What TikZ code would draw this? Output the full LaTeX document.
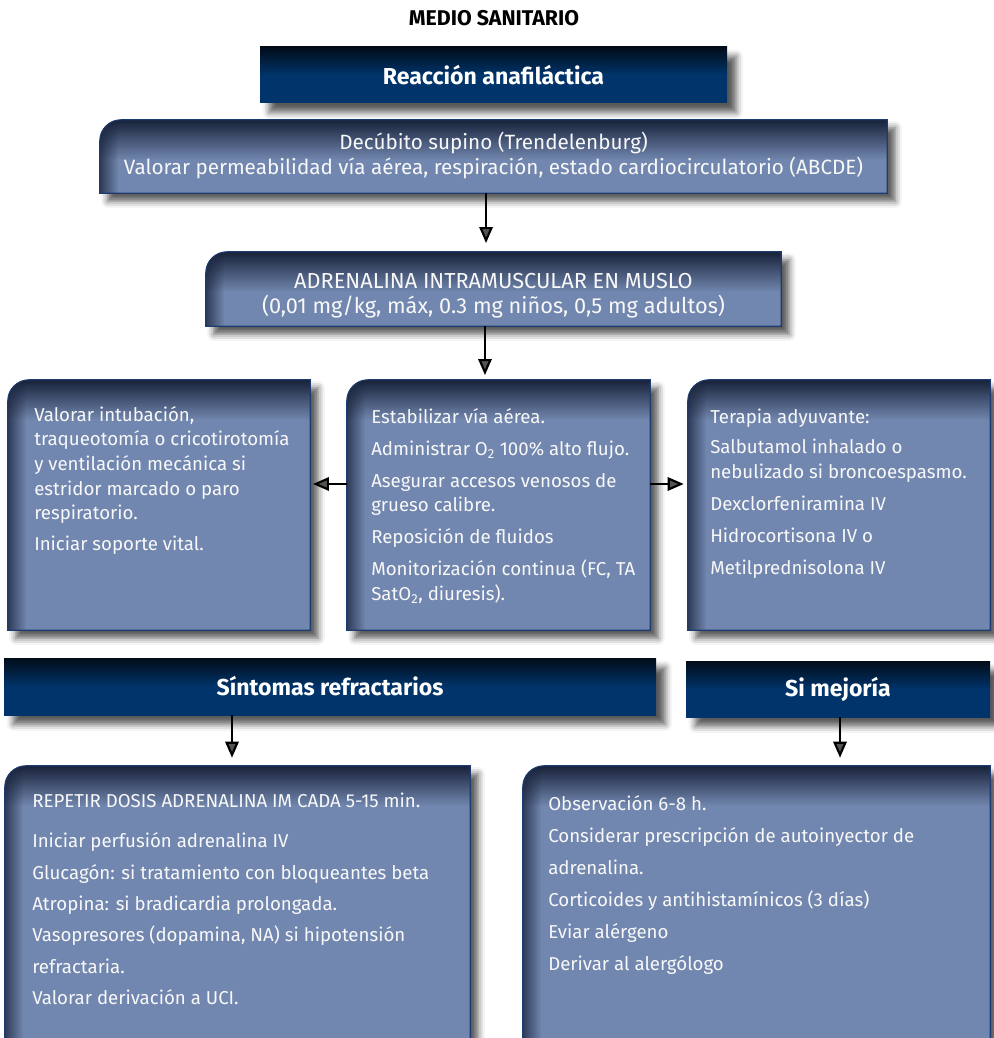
\documentclass[tikz,border=0pt]{standalone}
\usepackage{fontspec}
\setmainfont{Fira Sans}
\usepackage{tikz}
\usetikzlibrary{arrows.meta, fit, fadings, shadows.blur}
\definecolor{panelblue}{HTML}{7287AF}
\definecolor{paneldark}{HTML}{18223A}
\definecolor{paneledge}{HTML}{1D3B6E}
\definecolor{hdrblue}{HTML}{00346A}
\definecolor{hdrdark}{HTML}{020C18}
\definecolor{textwhite}{HTML}{F8F8F8}
\tikzfading[name=fadedown, top color=transparent!0, bottom color=transparent!100]
\tikzfading[name=faderight, left color=transparent!25, right color=transparent!100]
\newcommand{\bodyfont}{\fontsize{14}{18.5}\selectfont}
\newcommand{\hdrfont}{\fontsize{17.3}{20}\selectfont\bfseries}
% shaded box with one rounded corner, drawn behind a named node
\newcommand{\panelbg}[1]{%
  \fill[panelblue, blur shadow={shadow xshift=6pt, shadow yshift=-6pt,
        shadow blur radius=5pt, shadow opacity=65}]
    (#1.south west) [rounded corners=16pt] -- (#1.north west) [sharp corners]
    -- (#1.north east) -- (#1.south east) -- cycle;
  \begin{scope}
    \clip (#1.south west) [rounded corners=16pt] -- (#1.north west) [sharp corners]
      -- (#1.north east) -- (#1.south east) -- cycle;
    \fill[paneldark, path fading=fadedown]
      (#1.north west) rectangle ([yshift=-30pt]#1.north east);
    \fill[paneldark, path fading=faderight]
      (#1.north west) rectangle ([xshift=14pt]#1.south west);
  \end{scope}
  \draw[paneledge, line width=0.8pt]
    (#1.south west) [rounded corners=16pt] -- (#1.north west) [sharp corners]
    -- (#1.north east) -- (#1.south east) -- cycle;
}

\begin{document}
\begin{tikzpicture}[
  x=0.75pt, y=-0.75pt,
  boxarea/.style={inner sep=0pt},
  hdr/.style={inner sep=0pt,
              top color=hdrdark, bottom color=hdrblue, middle color=hdrblue,
              blur shadow={shadow xshift=7pt, shadow yshift=-7pt,
                           shadow blur radius=5pt, shadow opacity=65}},
  hdrtext/.style={inner sep=0pt, text=white, font=\hdrfont},
  txt/.style={anchor=north west, inner sep=0pt, align=left,
              text=textwhite, font=\bodyfont},
  arr/.style={line width=1.6pt, -{Triangle[length=12pt, width=10pt]}},
]
\useasboundingbox (0,0) rectangle (993,1038);

%% Title and first header
\node[font=\fontsize{16}{18}\selectfont\bfseries] (title) at (494,18) {MEDIO SANITARIO};
\node[hdr, fit={(260,47) (727,103)}] (anaf) {};
\node[hdrtext] (anaftext) at (anaf.center) {Reacción anafiláctica};

%% First two steps
\node[boxarea, fit={(100,120) (887,193)}] (decub) {};
\panelbg{decub}
\node[txt, anchor=center, align=center, font=\fontsize{15.5}{18.75}\selectfont]
  (decubtext) at (493.5,155)
  {Decúbito supino (Trendelenburg)\\
   Valorar permeabilidad vía aérea, respiración, estado cardiocirculatorio (ABCDE)};

\node[boxarea, fit={(206,252) (781,326)}] (adren) {};
\panelbg{adren}
\node[txt, anchor=center, align=center, font=\fontsize{16.3}{18.75}\selectfont]
  (adrentext) at (493.5,296)
  {ADRENALINA INTRAMUSCULAR EN MUSLO\\
   (0,01 mg/kg, máx, 0.3 mg niños, 0,5 mg adultos)};

%% Three boxes in a row
\node[boxarea, fit={(8,380) (310,630)}] (lbox) {};
\node[boxarea, fit={(347,380) (650,630)}] (mbox) {};
\node[boxarea, fit={(688,380) (990,630)}] (rbox) {};
\panelbg{lbox}
\panelbg{mbox}
\panelbg{rbox}

\node[txt] (ltext) at (34,406)
  {Valorar intubación,\\
   traqueotomía o cricotirotomía\\
   y ventilación mecánica si\\
   estridor marcado o paro\\
   respiratorio.\\[4.5pt]
   Iniciar soporte vital.};
\node[txt] (mtext) at (371,408)
  {Estabilizar vía aérea.\\[5.5pt]
   Administrar O\textsubscript{2} 100\% alto flujo.\\[5.5pt]
   Asegurar accesos venosos de\\
   grueso calibre.\\[5.5pt]
   Reposición de fluidos\\[5.5pt]
   Monitorización continua (FC, TA\\
   SatO\textsubscript{2}, diuresis).};
\node[txt] (rtext) at (710,409)
  {Terapia adyuvante:\\[4pt]
   Salbutamol inhalado o\\
   nebulizado si broncoespasmo.\\[5.5pt]
   Dexclorfeniramina IV\\[5.5pt]
   Hidrocortisona IV o\\[5.5pt]
   Metilprednisolona IV};

%% Second-level headers
\node[hdr, fit={(4,658) (656,715)}] (refr) {};
\node[hdrtext] (refrtext) at (refr.center) {Síntomas refractarios};
\node[hdr, fit={(686,661) (990,717)}] (mejor) {};
\node[hdrtext] (mejortext) at (mejor.center) {Si mejoría};

%% Bottom boxes (run off the page)
\node[boxarea, fit={(5,766) (470,1070)}] (blbox) {};
\node[boxarea, fit={(523,766) (990,1070)}] (brbox) {};
\panelbg{blbox}
\panelbg{brbox}

\node[txt] (bltext) at (32,793)
  {REPETIR DOSIS ADRENALINA IM CADA 5-15 min.\\[11.5pt]
   Iniciar perfusión adrenalina IV\\[5pt]
   Glucagón: si tratamiento con bloqueantes beta\\[5pt]
   Atropina: si bradicardia prolongada.\\[5pt]
   Vasopresores (dopamina, NA) si hipotensión\\[5pt]
   refractaria.\\[5pt]
   Valorar derivación a UCI.};
\node[txt] (brtext) at (548,795)
  {Observación 6-8 h.\\[5.5pt]
   Considerar prescripción de autoinyector de\\[5.5pt]
   adrenalina.\\[5.5pt]
   Corticoides y antihistamínicos (3 días)\\[5.5pt]
   Eviar alérgeno\\[5.5pt]
   Derivar al alergólogo};

%% Connectors
\draw[arr, shorten >=6.5pt] ([xshift=-5.6pt]decub.south) -- ([xshift=-5.6pt]decub.south |- adren.north);
\draw[arr, shorten >=3.5pt] ([xshift=-6.4pt]adren.south) -- ([xshift=-6.4pt]adren.south |- mbox.north);
\draw[arr, shorten >=2pt] ([yshift=15.75pt]mbox.west) -- ([yshift=15.75pt]mbox.west -| lbox.east);
\draw[arr, shorten >=3pt] ([yshift=15.75pt]mbox.east) -- ([yshift=15.75pt]mbox.east -| rbox.west);
\draw[arr, shorten >=6pt] ([xshift=-73.5pt]refr.south) -- ([xshift=-73.5pt]refr.south |- blbox.north);
\draw[arr, shorten >=6pt] ([xshift=1.5pt]mejor.south) -- ([xshift=1.5pt]mejor.south |- brbox.north);
\end{tikzpicture}
\end{document}
